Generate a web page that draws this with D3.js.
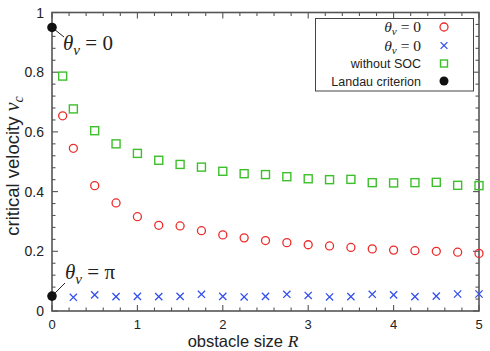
<!DOCTYPE html>
<html>
<head>
<meta charset="utf-8">
<script src="https://cdn.jsdelivr.net/npm/d3@7"></script>
<style>
  body { margin: 0; background: #fff; }
  svg text { font-family: "Liberation Sans", Arial, sans-serif; }
  .math { font-family: "Liberation Serif", "Times New Roman", serif; }
</style>
</head>
<body>
<svg id="chart" width="490" height="351"></svg>
<script>
// data
var rSoc = [0.125, 0.25, 0.5, 0.75, 1, 1.25, 1.5, 1.75, 2, 2.25, 2.5, 2.75, 3, 3.25, 3.5, 3.75, 4, 4.25, 4.5, 4.75, 5];
var vZero = [0.654, 0.545, 0.420, 0.362, 0.316, 0.287, 0.285, 0.269, 0.255, 0.245, 0.236, 0.229, 0.222, 0.218, 0.213, 0.208, 0.204, 0.202, 0.200, 0.197, 0.193];
var vNoSoc = [0.787, 0.677, 0.604, 0.560, 0.528, 0.505, 0.491, 0.482, 0.468, 0.460, 0.457, 0.450, 0.443, 0.440, 0.441, 0.430, 0.429, 0.430, 0.431, 0.421, 0.420];
var rPi = [0.25, 0.5, 0.75, 1, 1.25, 1.5, 1.75, 2, 2.25, 2.5, 2.75, 3, 3.25, 3.5, 3.75, 4, 4.25, 4.5, 4.75, 5];
var vPi = [0.046, 0.054, 0.048, 0.049, 0.048, 0.049, 0.056, 0.049, 0.047, 0.049, 0.056, 0.052, 0.047, 0.048, 0.056, 0.054, 0.048, 0.050, 0.057, 0.057];
var landauR = [0, 0];
var landauV = [0.95, 0.05];
var xTicks = [0, 1, 2, 3, 4, 5];
var yTicks = [0, 0.2, 0.4, 0.6, 0.8, 1];

var svg = d3.select("#chart");
var plotL = 52, plotR = 479, plotT = 12.5, plotB = 311;
var x = d3.scaleLinear().domain([0, 5]).range([plotL, plotR]);
var y = d3.scaleLinear().domain([0, 1]).range([plotB, plotT]);
var frameColor = "#555";
var red = "#ee2b2b", blue = "#3350ee", green = "#3cbf2a";

// ticks (inward, on all four sides)
var xMinor = d3.range(0, 5.001, 0.2);
var yMinor = d3.range(0, 1.001, 0.04);
var tg = svg.append("g").attr("stroke", frameColor).attr("stroke-width", 1.1);
xMinor.forEach(function(t) {
  var isMajor = Math.abs(t - Math.round(t)) < 1e-6;
  var len = isMajor ? 6 : 3.5;
  tg.append("line").attr("x1", x(t)).attr("x2", x(t)).attr("y1", plotB).attr("y2", plotB - len);
  tg.append("line").attr("x1", x(t)).attr("x2", x(t)).attr("y1", plotT).attr("y2", plotT + len);
});
yMinor.forEach(function(t) {
  var isMajor = Math.abs(t * 5 - Math.round(t * 5)) < 1e-6;
  var len = isMajor ? 6 : 3.5;
  tg.append("line").attr("x1", plotL).attr("x2", plotL + len).attr("y1", y(t)).attr("y2", y(t));
  tg.append("line").attr("x1", plotR).attr("x2", plotR - len).attr("y1", y(t)).attr("y2", y(t));
});

// frame
svg.append("rect").attr("x", plotL).attr("y", plotT)
  .attr("width", plotR - plotL).attr("height", plotB - plotT)
  .attr("fill", "none").attr("stroke", frameColor).attr("stroke-width", 1.6);

// tick labels
svg.selectAll(".xl").data(xTicks).enter().append("text")
  .attr("x", function(d) { return x(d); }).attr("y", 329)
  .attr("text-anchor", "middle").attr("font-size", 13).attr("fill", "#222")
  .text(function(d) { return d; });
svg.selectAll(".yl").data(yTicks).enter().append("text")
  .attr("x", 44).attr("y", function(d) { return y(d) + 5; })
  .attr("text-anchor", "end").attr("font-size", 14).attr("fill", "#222")
  .text(function(d) { return d; });

// axis labels
var xl = svg.append("text").attr("x", 243).attr("y", 347).attr("text-anchor", "middle")
  .attr("font-size", 16.5).attr("fill", "#222");
xl.append("tspan").text("obstacle size ");
xl.append("tspan").attr("class", "math").attr("font-style", "italic").attr("font-size", 17.5).text("R");

var yl = svg.append("text").attr("transform", "translate(19,166) rotate(-90)")
  .attr("text-anchor", "middle").attr("font-size", 18.5).attr("fill", "#222");
yl.append("tspan").text("critical velocity ");
yl.append("tspan").attr("class", "math").attr("font-style", "italic").attr("font-size", 20).text("v");
yl.append("tspan").attr("class", "math").attr("font-style", "italic").attr("font-size", 14).attr("dy", 4).text("c");

// markers
function circles(xs, ys, g) {
  g.selectAll("circle").data(xs).enter().append("circle")
    .attr("cx", function(d) { return x(d); })
    .attr("cy", function(d, i) { return y(ys[i]); })
    .attr("r", 4).attr("fill", "none").attr("stroke", red).attr("stroke-width", 1.3);
}
function squares(xs, ys, g) {
  g.selectAll("rect").data(xs).enter().append("rect")
    .attr("x", function(d) { return x(d) - 4; })
    .attr("y", function(d, i) { return y(ys[i]) - 4; })
    .attr("width", 8).attr("height", 8)
    .attr("fill", "none").attr("stroke", green).attr("stroke-width", 1.4);
}
function crosses(xs, ys, g) {
  var s = 3.6;
  g.selectAll("path").data(xs).enter().append("path")
    .attr("d", function(d, i) {
      var cx = x(d), cy = y(ys[i]);
      return "M" + (cx - s) + "," + (cy - s) + "L" + (cx + s) + "," + (cy + s) +
             "M" + (cx - s) + "," + (cy + s) + "L" + (cx + s) + "," + (cy - s);
    })
    .attr("stroke", blue).attr("stroke-width", 1.3).attr("fill", "none");
}
squares(rSoc, vNoSoc, svg.append("g"));
circles(rSoc, vZero, svg.append("g"));
crosses(rPi, vPi, svg.append("g"));

// Landau points + annotations
svg.append("line").attr("x1", x(0)).attr("y1", y(landauV[0])).attr("x2", 64).attr("y2", 37)
  .attr("stroke", "#222").attr("stroke-width", 1);
svg.append("line").attr("x1", x(0)).attr("y1", y(landauV[1])).attr("x2", 65).attr("y2", 283)
  .attr("stroke", "#222").attr("stroke-width", 1);
svg.selectAll(".landau").data(landauR).enter().append("circle")
  .attr("cx", function(d) { return x(d); })
  .attr("cy", function(d, i) { return y(landauV[i]); })
  .attr("r", 4.8).attr("fill", "#111");

function mathLabel(g, px, py, size, rhs) {
  var t = g.append("text").attr("class", "math").attr("x", px).attr("y", py)
    .attr("font-size", size).attr("fill", "#222");
  t.append("tspan").attr("font-style", "italic").text("θ");
  t.append("tspan").attr("font-style", "italic").attr("font-size", size * 0.72)
    .attr("dy", size * 0.22).text("v");
  t.append("tspan").attr("dy", -size * 0.22).text(" = " + rhs);
  return t;
}
mathLabel(svg, 63, 50, 21, "0");
mathLabel(svg, 65, 279, 21, "π");

// legend
var leg = svg.append("g");
leg.append("rect").attr("x", 315.5).attr("y", 18.5).attr("width", 158).attr("height", 72.5)
  .attr("fill", "#fff").attr("stroke", "#444").attr("stroke-width", 1);
var rowsY = [27, 45.5, 63.5, 81];
mathLabel(leg, 421, rowsY[0] + 5, 15.5, "0").attr("text-anchor", "end");
mathLabel(leg, 421, rowsY[1] + 5, 15.5, "0").attr("text-anchor", "end");
leg.append("text").attr("x", 421).attr("y", rowsY[2] + 4.5).attr("text-anchor", "end")
  .attr("font-size", 12.5).attr("fill", "#222").text("without SOC");
leg.append("text").attr("x", 421).attr("y", rowsY[3] + 4.5).attr("text-anchor", "end")
  .attr("font-size", 12.5).attr("fill", "#222").text("Landau criterion");
var lx = 444;
leg.append("circle").attr("cx", lx).attr("cy", rowsY[0]).attr("r", 4)
  .attr("fill", "none").attr("stroke", red).attr("stroke-width", 1.3);
var s = 3.4;
leg.append("path").attr("d", "M" + (lx - s) + "," + (rowsY[1] - s) + "L" + (lx + s) + "," + (rowsY[1] + s) +
  "M" + (lx - s) + "," + (rowsY[1] + s) + "L" + (lx + s) + "," + (rowsY[1] - s))
  .attr("stroke", blue).attr("stroke-width", 1.3);
leg.append("rect").attr("x", lx - 3.5).attr("y", rowsY[2] - 3.5).attr("width", 7).attr("height", 7)
  .attr("fill", "none").attr("stroke", green).attr("stroke-width", 1.4);
leg.append("circle").attr("cx", lx).attr("cy", rowsY[3]).attr("r", 4.5).attr("fill", "#111");
</script>
</body>
</html>
